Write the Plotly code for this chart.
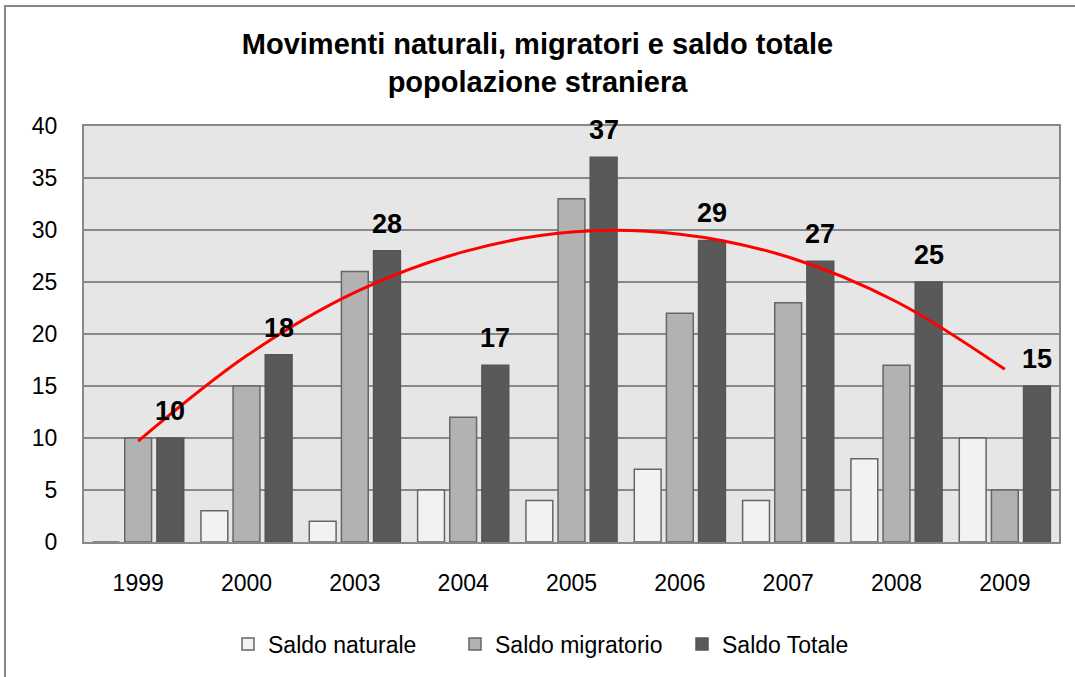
import plotly.graph_objects as go

categories = ["1999", "2000", "2003", "2004", "2005", "2006", "2007", "2008", "2009"]
saldo_naturale = [0, 3, 2, 5, 4, 7, 4, 8, 10]
saldo_migratorio = [10, 15, 26, 12, 33, 22, 23, 17, 5]
saldo_totale = [10, 18, 28, 17, 37, 29, 27, 25, 15]
trend_totale = [9.7, 17.9, 24.0, 27.9, 29.8, 29.6, 27.4, 23.1, 16.6]
y_ticks = [0, 5, 10, 15, 20, 25, 30, 35, 40]

FONT = "Arial, 'Liberation Sans', sans-serif"
W, H = 1075, 677
L, R, T, B = 84, 16, 126, 135
PW, PH = W - L - R, H - T - B
GRID = "#888888"

fig = go.Figure()
fig.add_trace(go.Bar(name="Saldo naturale", x=categories, y=saldo_naturale,
                     marker=dict(color="#f2f2f2", line=dict(color="#666666", width=1.5))))
fig.add_trace(go.Bar(name="Saldo migratorio", x=categories, y=saldo_migratorio,
                     marker=dict(color="#b2b2b2", line=dict(color="#666666", width=1.5))))
fig.add_trace(go.Bar(name="Saldo Totale", x=categories, y=saldo_totale,
                     marker=dict(color="#595959", line=dict(color="#555555", width=1.5))))
fig.add_trace(go.Scatter(x=categories, y=trend_totale, mode="lines", showlegend=False,
                         line=dict(color="#ff0000", width=3, shape="spline", smoothing=1.0),
                         hoverinfo="skip"))

for i, v in enumerate(saldo_totale):
    fig.add_annotation(x=i, y=v, text=f"<b>{v}</b>", showarrow=False, xshift=32, yshift=27,
                       yanchor="middle", font=dict(family=FONT, size=27, color="#000000"))

# outer chart frame
fig.add_shape(type="rect", xref="paper", yref="paper",
              x0=(5 - L) / PW, x1=(1085 - L) / PW,
              y0=1 - (690 - T) / PH, y1=1 - (6 - T) / PH,
              line=dict(color="#868686", width=2), fillcolor="rgba(0,0,0,0)", layer="below")

fig.update_layout(
    width=W, height=H,
    margin=dict(l=L, r=R, t=T, b=B),
    paper_bgcolor="#ffffff", plot_bgcolor="#e6e6e6",
    barmode="group", bargap=0.11, bargroupgap=0.165,
    font=dict(family=FONT, size=22, color="#000000"),
    title=dict(text="<b>Movimenti naturali, migratori e saldo totale<br>popolazione straniera</b>",
               x=0.5, xref="container", xanchor="center",
               y=1 - 54 / H, yref="container", yanchor="middle",
               font=dict(family=FONT, size=29, color="#000000")),
    legend=dict(orientation="h", x=(228 - L) / PW, xanchor="left",
                y=-(644 - (T + PH)) / PH, yanchor="middle",
                font=dict(family=FONT, size=23), bgcolor="rgba(0,0,0,0)",
                itemwidth=30, tracegroupgap=0, entrywidth=182, entrywidthmode="pixels"),
    xaxis=dict(type="category", categoryorder="array", categoryarray=categories,
               range=[-0.5, len(categories) - 0.5],
               showgrid=False, showline=True, linecolor=GRID, linewidth=2, mirror=True,
               ticks="", ticklabelstandoff=19, tickfont=dict(size=23)),
    yaxis=dict(range=[0, 40], tickvals=y_ticks, showgrid=True, gridcolor=GRID, gridwidth=2,
               showline=True, linecolor=GRID, linewidth=2, mirror=True, zeroline=False,
               ticks="", ticklabelstandoff=20, tickfont=dict(size=23)),
)

fig.write_html("out.html", config={"displayModeBar": False},
               post_script="document.body.style.margin='0';")
